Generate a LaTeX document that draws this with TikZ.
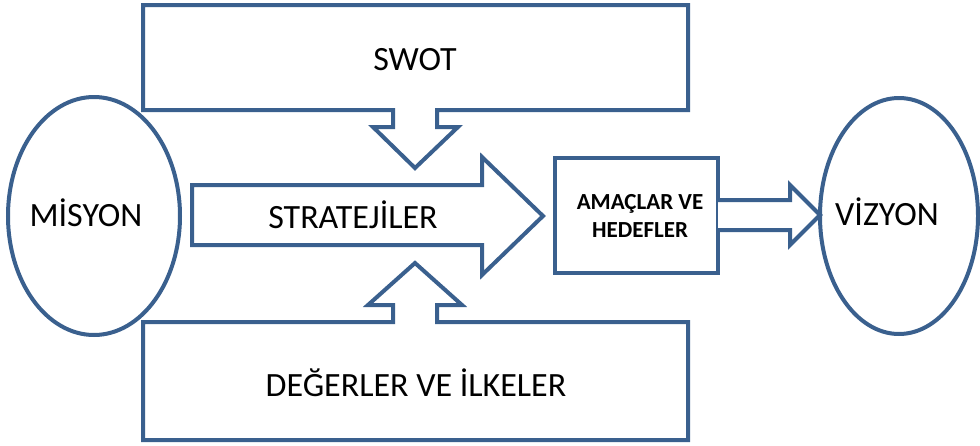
\documentclass[tikz,border=0pt]{standalone}
\usepackage{fontspec}
\setmainfont{Carlito}
\usetikzlibrary{positioning}
\definecolor{blueline}{RGB}{58,96,142}

\begin{document}
\begin{tikzpicture}[x=1pt, y=-1pt, blockshape/.style={draw=blueline, line width=4pt, fill=white}, bigtext/.style={font=\fontsize{34}{40}\selectfont, inner sep=0pt}, smalltext/.style={font=\bfseries\fontsize{23}{28}\selectfont, align=center, inner sep=0pt}]
\useasboundingbox (0,0) rectangle (980,445);
% ellipses
\draw[blockshape] (94,216) ellipse [x radius=86, y radius=119];
\draw[blockshape] (899,216) ellipse [x radius=79, y radius=118];
% swot box with down arrow
\draw[blockshape] (143,5)--(688,5)--(688,110)--(437,110)--(437,127)--(458,127)--(415,168)--(373,127)--(393,127)--(393,110)--(143,110)--cycle;
% values box with up arrow
\draw[blockshape] (143,440)--(688,440)--(688,322)--(437,322)--(437,305)--(462,305)--(415,263)--(368,305)--(393,305)--(393,322)--(143,322)--cycle;
% strategy arrow
\draw[blockshape] (192,185)--(482,185)--(482,157)--(543,216)--(482,275)--(482,245)--(192,245)--cycle;
% goals box and arrow
\draw[blockshape] (555,158) rectangle (718,273);
\draw[blockshape] (718,200)--(790,200)--(790,185)--(820,215)--(790,245)--(790,230)--(718,230);
\node[bigtext] (swot) at (415,60) {SWOT};
\node[bigtext] (strateji) at (353,215) {STRATEJİLER};
\node[bigtext] (deger) at (416,383) {DEĞERLER VE İLKELER};
\node[bigtext] (misyon) at (86,213) {MİSYON};
\node[bigtext] (vizyon) at (887,212) {VİZYON};
\node[smalltext] (amac) at (640,216) {AMAÇLAR VE\\HEDEFLER};
\end{tikzpicture}
\end{document}
